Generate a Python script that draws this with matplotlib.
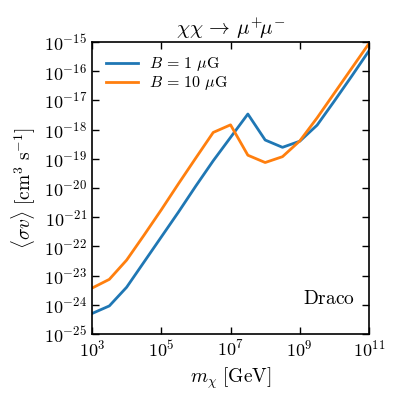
import numpy as np
import matplotlib
matplotlib.use("Agg")
import matplotlib.pyplot as plt

plt.rcParams['mathtext.fontset'] = 'cm'
plt.rcParams['font.family'] = 'serif'
plt.rcParams['font.serif'] = ['cmr10', 'DejaVu Serif']
plt.rcParams['axes.formatter.use_mathtext'] = True

log_mass = [3.0, 3.5, 4.0, 4.5, 5.0, 5.5, 6.0, 6.5, 7.0, 7.5, 8.0, 8.5, 9.0, 9.5, 10.0, 10.5, 11.0]
log_sv_B1 = [-24.3, -24.04, -23.4, -22.54, -21.68, -20.82, -19.93, -19.07, -18.27, -17.47,
             -18.36, -18.61, -18.4, -17.85, -17.02, -16.17, -15.3]
log_sv_B10 = [-23.43, -23.13, -22.47, -21.62, -20.75, -19.85, -18.97, -18.1, -17.84, -18.88,
              -19.13, -18.93, -18.39, -17.6, -16.75, -15.9, -15.05]
labels = [r'$B\,=\,1\ \mu\mathrm{G}$', r'$B\,=\,10\ \mu\mathrm{G}$']
colors = ['#1f77b4', '#ff7f0e']

mass = 10.0 ** np.array(log_mass)
sv1 = 10.0 ** np.array(log_sv_B1)
sv10 = 10.0 ** np.array(log_sv_B10)

fig = plt.figure(figsize=(3.99, 3.99), dpi=100)
ax = fig.add_axes([0.2306, 0.163, 0.6944, 0.732])
ax.plot(mass, sv1, color=colors[0], lw=2, label=labels[0])
ax.plot(mass, sv10, color=colors[1], lw=2, label=labels[1])
ax.set_xscale('log')
ax.set_yscale('log')
ax.set_xlim(1e3, 1e11)
ax.set_ylim(1e-25, 1e-15)
ax.set_xticks([1e3, 1e5, 1e7, 1e9, 1e11])
ax.set_yticks([10.0 ** k for k in range(-25, -14)])
ax.minorticks_off()
ax.tick_params(direction='in', top=True, right=True, length=5, width=1, labelsize=13)
for s in ax.spines.values():
    s.set_linewidth(1.2)
ax.set_xlabel(r'$m_\chi\ [\mathrm{GeV}]$', fontsize=14)
ax.set_ylabel(r'$\langle \sigma v \rangle\ [\mathrm{cm}^3\ \mathrm{s}^{-1}]$', fontsize=14)
ax.set_title(r'$\chi\chi\,\to\,\mu^{+}\!\mu^{-}$', fontsize=15, pad=5)
ax.legend(loc='upper left', frameon=False, fontsize=11.5, handlelength=2.0,
          labelspacing=0.05, borderaxespad=0.45, handletextpad=0.7)
ax.text(0.95, 0.12, r'$\mathrm{Draco}$', transform=ax.transAxes, ha='right', va='center', fontsize=14)
fig.savefig('out.png', dpi=100)
